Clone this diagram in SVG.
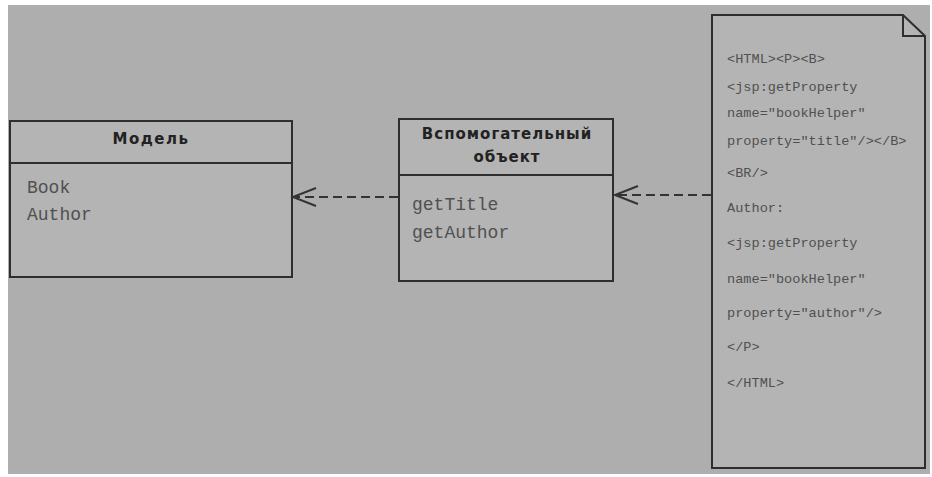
<svg xmlns="http://www.w3.org/2000/svg" width="932" height="477" viewBox="0 0 932 477">
<style>
.box{fill:#b4b4b4;stroke:#2e2e2e;stroke-width:2}
.line{stroke:#2e2e2e;stroke-width:2;fill:none}
.hdr{font-family:"DejaVu Sans",sans-serif;font-weight:bold;font-size:15px;fill:#222;text-anchor:middle}
.mono{font-family:"Liberation Mono",monospace;font-size:18px;fill:#505050}
.code{font-family:"Liberation Mono",monospace;font-size:13.6px;fill:#505050}
.dash{stroke:#333;stroke-width:2;stroke-dasharray:9 5;fill:none}
.head{stroke:#333;stroke-width:2;fill:none}
</style>
<rect x="0" y="0" width="932" height="477" fill="#ffffff"/>
<rect x="8" y="5" width="922" height="469" fill="#aeaeae"/>
<g id="model">
<rect class="box" x="10" y="121" width="282" height="156"/>
<line class="line" x1="10" y1="163" x2="292" y2="163"/>
<text class="hdr" x="151" y="144" font-size="16" letter-spacing="1.5">Модель</text>
<text class="mono" x="27" y="193">Book</text>
<text class="mono" x="27" y="220">Author</text>
</g>
<g id="helper">
<rect class="box" x="399" y="119" width="214" height="162"/>
<line class="line" x1="399" y1="175" x2="613" y2="175"/>
<text class="hdr" x="507" y="139" letter-spacing="1">Вспомогательный</text>
<text class="hdr" x="507" y="162" letter-spacing="1">объект</text>
<text class="mono" x="412" y="210">getTitle</text>
<text class="mono" x="412" y="238">getAuthor</text>
</g>
<g id="jsp">
<path class="box" d="M712 15 H903 L925 36 V468 H712 Z"/>
<path class="line" d="M903 15 V36 H925"/>
<text class="code" x="727" y="63">&lt;HTML&gt;&lt;P&gt;&lt;B&gt;</text>
<text class="code" x="727" y="91">&lt;jsp:getProperty</text>
<text class="code" x="727" y="117">name="bookHelper"</text>
<text class="code" x="727" y="145">property="title"/&gt;&lt;/B&gt;</text>
<text class="code" x="727" y="177">&lt;BR/&gt;</text>
<text class="code" x="727" y="212">Author:</text>
<text class="code" x="727" y="247">&lt;jsp:getProperty</text>
<text class="code" x="727" y="283">name="bookHelper"</text>
<text class="code" x="727" y="317">property="author"/&gt;</text>
<text class="code" x="727" y="351">&lt;/P&gt;</text>
<text class="code" x="727" y="387">&lt;/HTML&gt;</text>
</g>
<g id="connectors">
<line class="dash" x1="398" y1="197" x2="296" y2="197"/>
<path class="head" d="M316 188 L293 197 L316 206"/>
<line class="dash" x1="711" y1="195" x2="617" y2="195"/>
<path class="head" d="M638 186 L615 195 L638 204"/>
</g>
</svg>
